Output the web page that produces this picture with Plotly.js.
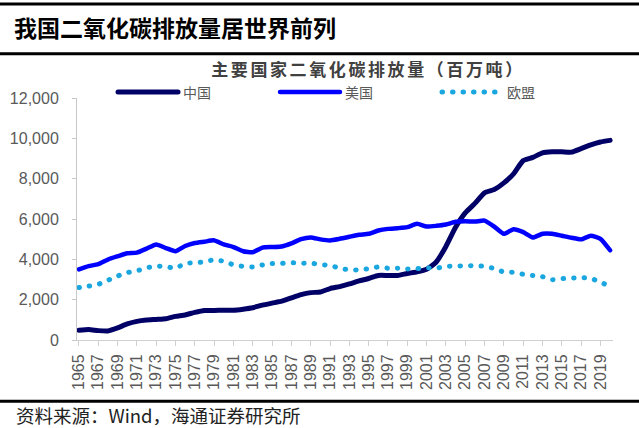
<!DOCTYPE html>
<html>
<head>
<meta charset="utf-8">
<script src="https://cdn.plot.ly/plotly-3.0.1.min.js"></script>
<style>
  html, body { margin: 0; padding: 0; background: #fff; }
  #chart { width: 639px; height: 428px; }
  .js-line { stroke-linecap: round; }
  .gtitle { letter-spacing: 2.6px; }
</style>
</head>
<body>
<div id="chart"></div>
<script>
const years = [1965,1966,1967,1968,1969,1970,1971,1972,1973,1974,1975,1976,1977,1978,1979,1980,1981,1982,1983,1984,1985,1986,1987,1988,1989,1990,1991,1992,1993,1994,1995,1996,1997,1998,1999,2000,2001,2002,2003,2004,2005,2006,2007,2008,2009,2010,2011,2012,2013,2014,2015,2016,2017,2018,2019,2020];

const china = [480,515,465,450,600,795,925,990,1020,1055,1170,1240,1370,1465,1465,1480,1480,1530,1600,1730,1830,1925,2090,2250,2350,2380,2550,2650,2780,2930,3050,3200,3200,3200,3300,3380,3510,3870,4640,5590,6300,6775,7300,7460,7790,8240,8895,9055,9280,9330,9330,9315,9490,9675,9820,9900];

const usa = [3500,3660,3760,3990,4150,4300,4330,4530,4740,4560,4400,4660,4810,4875,4940,4740,4610,4400,4350,4580,4610,4640,4790,5000,5085,4990,4940,5020,5120,5220,5265,5430,5510,5545,5595,5760,5625,5660,5725,5860,5890,5870,5920,5625,5265,5495,5350,5085,5265,5265,5170,5070,4990,5170,5020,4450];

const eu = [2600,2670,2760,2960,3170,3340,3430,3580,3660,3640,3560,3800,3820,3880,3980,3900,3730,3650,3620,3720,3790,3800,3830,3810,3810,3740,3700,3560,3480,3480,3540,3620,3560,3560,3520,3540,3580,3560,3650,3670,3680,3690,3650,3550,3370,3360,3260,3200,3140,2990,3040,3070,3100,3050,2870,2650];

const seriesNames = ['中国', '美国', '欧盟'];
const headerText = '我国二氧化碳排放量居世界前列';
const chartTitle = '主要国家二氧化碳排放量（百万吨）';
const sourceText = '资料来源：Wind，海通证券研究所';

const cjk = '"Noto Sans CJK SC", "Noto Sans", sans-serif';
const latin = '"Liberation Sans", Arial, sans-serif';

const traces = [
  { x: years, y: china, name: seriesNames[0], type: 'scatter', mode: 'lines',
    line: { color: '#000066', width: 5, shape: 'spline', smoothing: 0.5 } },
  { x: years, y: usa, name: seriesNames[1], type: 'scatter', mode: 'lines',
    line: { color: '#0000FF', width: 4.5, shape: 'spline', smoothing: 0.5 } },
  { x: years, y: eu, name: seriesNames[2], type: 'scatter', mode: 'lines',
    line: { color: '#1AA7E0', width: 5, dash: '0.5px,10px', shape: 'spline', smoothing: 0.5 } }
];

// paper coordinate helpers (plot area: x 77..612.6 px, y 97.5..340.5 px)
const L = 77, W = 535.6, T = 97.5, H = 243;
const px = v => (v - L) / W;
const py = v => (T + H - v) / H;

const layout = {
  width: 639, height: 428,
  margin: { l: L, r: 639 - L - W, t: T, b: 428 - T - H, pad: 0 },
  paper_bgcolor: '#ffffff', plot_bgcolor: '#ffffff',
  showlegend: true,
  title: {
    text: '<b>' + chartTitle + '</b>',
    font: { family: cjk, size: 17, color: '#404040' },
    x: 368 / 639, xanchor: 'center', xref: 'container',
    y: 1 - 70 / 428, yanchor: 'middle', yref: 'container'
  },
  legend: {
    orientation: 'h', x: px(113), xanchor: 'left', y: py(92), yanchor: 'middle',
    font: { family: cjk, size: 14, color: '#595959' },
    entrywidth: 87, entrywidthmode: 'pixels', itemwidth: 60,
    bgcolor: 'rgba(0,0,0,0)', borderwidth: 0, traceorder: 'normal'
  },
  xaxis: {
    type: 'linear', range: [1964.8, 2020.3],
    tick0: 1965, dtick: 2, tickangle: -90,
    showgrid: false, zeroline: false,
    showline: true, linecolor: '#d0d0d0', linewidth: 1,
    ticks: 'outside', ticklen: 5, tickcolor: '#d0d0d0',
    ticklabelstandoff: 2,
    tickfont: { family: latin, size: 16, color: '#595959' },
    fixedrange: true
  },
  yaxis: {
    range: [0, 12000], tick0: 0, dtick: 2000, tickformat: ',d',
    showgrid: false, zeroline: false,
    showline: true, linecolor: '#c8c8c8', linewidth: 1,
    ticks: 'outside', ticklen: 4, tickcolor: '#c8c8c8',
    ticklabelstandoff: 10,
    tickfont: { family: latin, size: 16, color: '#595959' },
    fixedrange: true
  },
  shapes: [
    { type: 'line', xref: 'paper', yref: 'paper', x0: px(0), x1: px(639), y0: py(3), y1: py(3), line: { color: '#000', width: 3 } },
    { type: 'line', xref: 'paper', yref: 'paper', x0: px(0), x1: px(639), y0: py(53), y1: py(53), line: { color: '#000', width: 3 } },
    { type: 'line', xref: 'paper', yref: 'paper', x0: px(0), x1: px(639), y0: py(402), y1: py(402), line: { color: '#000', width: 3 } }
  ],
  annotations: [
    { xref: 'paper', yref: 'paper', x: px(12), y: py(26), xanchor: 'left', yanchor: 'middle',
      text: '<b>' + headerText + '</b>', showarrow: false,
      font: { family: cjk, size: 23, color: '#000' } },
    { xref: 'paper', yref: 'paper', x: px(14), y: py(416), xanchor: 'left', yanchor: 'middle',
      text: sourceText, showarrow: false,
      font: { family: cjk, size: 18.5, color: '#222' } }
  ]
};

Plotly.newPlot('chart', traces, layout, { displayModeBar: false, staticPlot: true });
</script>
</body>
</html>
